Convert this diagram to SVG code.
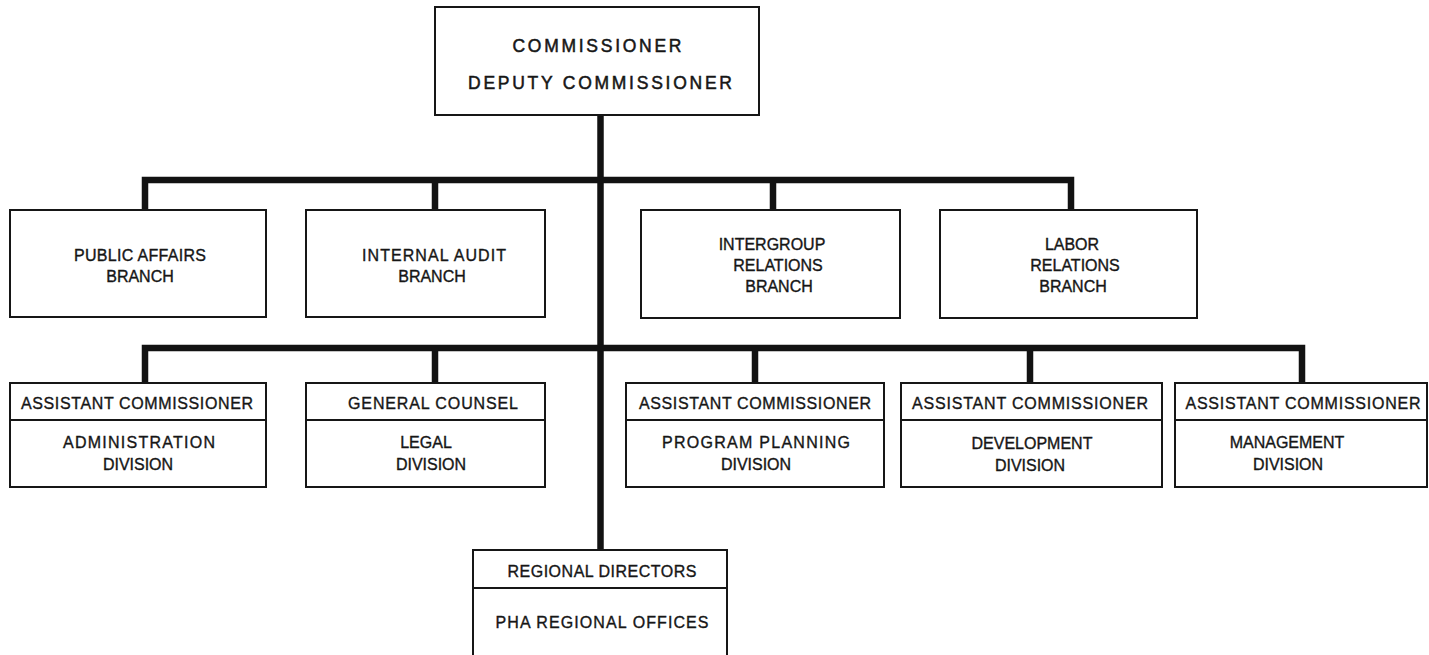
<svg xmlns="http://www.w3.org/2000/svg" width="1429" height="655" viewBox="0 0 1429 655">
  <style>
    .box { fill: #ffffff; stroke: #161616; stroke-width: 2; }
    .rule { stroke: #161616; stroke-width: 2; }
    .bus { fill: none; stroke: #121212; stroke-width: 6.5; stroke-linejoin: miter; stroke-linecap: butt; }
    text { font-family: "Liberation Sans", Arial, sans-serif; font-size: 16px; fill: #161616; stroke: #161616; stroke-width: 0.35; text-anchor: middle; }
    .head { font-size: 17.5px; stroke-width: 0.5; }
  </style>
  <rect width="1429" height="655" fill="#ffffff"/>

  <!-- connectors -->
  <g id="connectors">
    <path class="bus" d="M600.5 115 V550"/>
    <path class="bus" d="M145 210 V180 H1071 V210"/>
    <path class="bus" d="M435 180 V210 M773 180 V210"/>
    <path class="bus" d="M145 383 V348 H1302 V383"/>
    <path class="bus" d="M435 348 V383 M755 348 V383 M1030 348 V383"/>
  </g>

  <!-- top office -->
  <g id="commissioner">
    <rect class="box" x="435" y="7" width="324" height="108"/>
    <text class="head" x="597" y="52" textLength="169" lengthAdjust="spacing">COMMISSIONER</text>
    <text class="head" x="600" y="89" textLength="264" lengthAdjust="spacing">DEPUTY COMMISSIONER</text>
  </g>

  <!-- staff branches -->
  <g id="public-affairs">
    <rect class="box" x="10" y="210" width="256" height="107"/>
    <text x="140" y="261" textLength="132" lengthAdjust="spacing">PUBLIC AFFAIRS</text>
    <text x="140" y="282">BRANCH</text>
  </g>
  <g id="internal-audit">
    <rect class="box" x="306" y="210" width="239" height="107"/>
    <text x="434" y="261" textLength="144" lengthAdjust="spacing">INTERNAL AUDIT</text>
    <text x="432" y="282">BRANCH</text>
  </g>
  <g id="intergroup-relations">
    <rect class="box" x="641" y="210" width="259" height="108"/>
    <text x="772" y="250">INTERGROUP</text>
    <text x="778" y="271">RELATIONS</text>
    <text x="779" y="292">BRANCH</text>
  </g>
  <g id="labor-relations">
    <rect class="box" x="940" y="210" width="257" height="108"/>
    <text x="1072" y="250">LABOR</text>
    <text x="1075" y="271">RELATIONS</text>
    <text x="1073" y="292">BRANCH</text>
  </g>

  <!-- divisions -->
  <g id="administration">
    <rect class="box" x="10" y="383" width="256" height="104"/>
    <line class="rule" x1="10" y1="420" x2="266" y2="420"/>
    <text x="137" y="409" textLength="232" lengthAdjust="spacing">ASSISTANT COMMISSIONER</text>
    <text x="139" y="448" textLength="152" lengthAdjust="spacing">ADMINISTRATION</text>
    <text x="138" y="470">DIVISION</text>
  </g>
  <g id="legal">
    <rect class="box" x="306" y="383" width="239" height="104"/>
    <line class="rule" x1="306" y1="420" x2="545" y2="420"/>
    <text x="433" y="409" textLength="170" lengthAdjust="spacing">GENERAL COUNSEL</text>
    <text x="426" y="448">LEGAL</text>
    <text x="431" y="470">DIVISION</text>
  </g>
  <g id="program-planning">
    <rect class="box" x="626" y="383" width="258" height="104"/>
    <line class="rule" x1="626" y1="420" x2="884" y2="420"/>
    <text x="755" y="409" textLength="232" lengthAdjust="spacing">ASSISTANT COMMISSIONER</text>
    <text x="756" y="448" textLength="188" lengthAdjust="spacing">PROGRAM PLANNING</text>
    <text x="756" y="470">DIVISION</text>
  </g>
  <g id="development">
    <rect class="box" x="901" y="383" width="261" height="104"/>
    <line class="rule" x1="901" y1="420" x2="1162" y2="420"/>
    <text x="1030" y="409" textLength="236" lengthAdjust="spacing">ASSISTANT COMMISSIONER</text>
    <text x="1032" y="449">DEVELOPMENT</text>
    <text x="1030" y="471">DIVISION</text>
  </g>
  <g id="management">
    <rect class="box" x="1175" y="383" width="252" height="104"/>
    <line class="rule" x1="1175" y1="420" x2="1427" y2="420"/>
    <text x="1303" y="409" textLength="235" lengthAdjust="spacing">ASSISTANT COMMISSIONER</text>
    <text x="1287" y="448">MANAGEMENT</text>
    <text x="1288" y="470">DIVISION</text>
  </g>

  <!-- field offices -->
  <g id="regional-offices">
    <rect class="box" x="473" y="550" width="254" height="120"/>
    <line class="rule" x1="473" y1="588" x2="727" y2="588"/>
    <text x="602" y="577" textLength="189" lengthAdjust="spacing">REGIONAL DIRECTORS</text>
    <text x="602" y="628" textLength="213" lengthAdjust="spacing">PHA REGIONAL OFFICES</text>
  </g>
</svg>
